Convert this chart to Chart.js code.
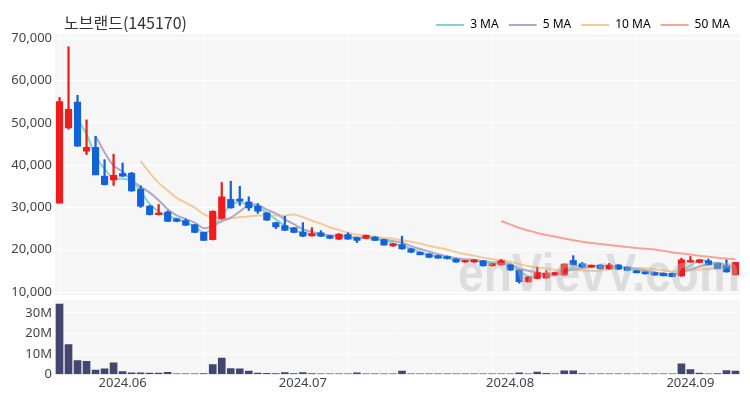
<!DOCTYPE html>
<html>
<head>
<meta charset="utf-8">
<script src="https://cdn.jsdelivr.net/npm/chart.js@4.4.1/dist/chart.umd.min.js"></script>
<style>
  html, body { margin: 0; padding: 0; background: #fff; }
  #wrap { position: relative; width: 750px; height: 400px; }
  #title { position: absolute; left: 64px; top: 12px; line-height: 20px; font-size: 16px;
           font-family: 'Noto Sans CJK KR', sans-serif; color: #333; }
  canvas { position: absolute; left: 0; }
  #price { top: 0; }
  #volume { top: 300px; }
</style>
</head>
<body>
<div id="wrap">
  <canvas id="price" width="750" height="300"></canvas>
  <canvas id="volume" width="750" height="100"></canvas>
  <div id="title">노브랜드(145170)</div>
</div>
<script>
const dates = [
  '2024.05.23','2024.05.24','2024.05.27','2024.05.28','2024.05.29','2024.05.30','2024.05.31',
  '2024.06.03','2024.06.04','2024.06.05','2024.06.06','2024.06.07','2024.06.10','2024.06.11','2024.06.12','2024.06.13','2024.06.14',
  '2024.06.17','2024.06.18','2024.06.19','2024.06.20','2024.06.21','2024.06.24','2024.06.25','2024.06.26','2024.06.27','2024.06.28',
  '2024.07.01','2024.07.02','2024.07.03','2024.07.04','2024.07.05','2024.07.08','2024.07.09','2024.07.10','2024.07.11','2024.07.12',
  '2024.07.15','2024.07.16','2024.07.17','2024.07.18','2024.07.19','2024.07.22','2024.07.23','2024.07.24','2024.07.25','2024.07.26',
  '2024.07.29','2024.07.30','2024.07.31',
  '2024.08.01','2024.08.02','2024.08.05','2024.08.06','2024.08.07','2024.08.08','2024.08.09','2024.08.12','2024.08.13','2024.08.14',
  '2024.08.16','2024.08.19','2024.08.20','2024.08.21','2024.08.22','2024.08.23','2024.08.26','2024.08.27','2024.08.28','2024.08.29',
  '2024.09.02','2024.09.03','2024.09.04','2024.09.05','2024.09.06','2024.09.09'
];

const opens = [31000,48800,54900,43300,44200,37400,36500,38000,38100,34300,
  30300,28300,28900,27300,26900,25900,24100,22400,27400,31900,
  32000,31300,30300,28700,26400,25700,25200,24200,23300,24000,
  23300,22500,23600,22900,22700,23000,22400,20900,21200,20200,
  19400,19000,18600,18400,17800,17100,17100,17400,16200,16400,
  16400,15200,12400,13200,13300,14100,14000,17450,16700,15900,
  16400,15500,16400,15900,15000,14750,14600,14450,14450,13800,
  17100,17000,17400,16700,16200,14050];
const highs = [56000,68000,56500,50700,46800,41300,42600,40500,38300,35100,
  30500,30700,29200,27400,27300,26000,24200,29200,35900,36200,
  35000,32500,30900,28800,26500,27900,25300,26400,25200,24500,
  23400,23800,24000,23000,23500,23100,22500,21500,23200,20300,
  19500,19100,18700,18500,17900,17500,17700,17500,16800,17700,
  16500,15300,13600,15900,15100,14700,16700,18600,17000,16400,
  16500,16800,16500,16000,15100,14800,14700,14500,14500,18000,
  18400,17700,17800,16800,17600,17000];
const lows = [31000,48500,44400,42500,37700,35300,35200,37300,33800,30000,
  28200,28200,26700,26600,25700,24000,22200,22300,27200,29800,
  30500,29300,28600,26900,25000,24500,24000,23100,23200,23100,
  22600,22400,22500,21700,22600,22200,21100,20800,20100,19300,
  18800,18100,18000,17800,17000,17000,17000,16100,16100,16300,
  15100,12100,12300,13100,13200,14000,13900,16300,15800,15800,
  15400,15400,15300,15000,14500,14250,13950,13800,13600,13700,
  17000,16900,16400,15500,14700,14000];
const closes = [55000,53200,44500,44200,37700,35400,37600,37400,33900,30300,
  28300,28700,26700,26700,25800,24100,22200,29100,32500,29900,
  31500,29900,29100,27000,25400,24600,24100,23200,23800,23200,
  22700,23700,22500,22200,23400,22200,21100,21400,20200,19400,
  18800,18200,18000,17900,17100,17450,17600,16200,16700,17400,
  15200,12450,13500,14600,14500,14600,16600,16400,15900,16350,
  15500,16400,15400,15100,14550,14300,14000,13850,13650,17600,
  17450,17600,16450,15550,14750,17000];
// volume in millions of shares
const volumes = [34.3,14.5,6.8,6.4,2.1,2.7,5.6,1.4,0.8,0.8,
  0.6,0.7,1.0,0.3,0.3,0.3,0.4,4.8,8.0,2.9,
  2.7,1.6,0.6,0.5,0.4,0.9,0.4,0.9,0.4,0.3,
  0.3,0.3,0.3,0.8,0.3,0.2,0.3,0.3,1.6,0.3,
  0.2,0.2,0.2,0.2,0.2,0.2,0.2,0.2,0.2,0.2,
  0.3,0.8,0.3,1.1,0.5,0.2,1.7,1.7,0.4,0.3,
  0.3,0.3,0.2,0.2,0.2,0.2,0.2,0.2,0.2,5.2,
  2.4,0.6,0.3,0.4,1.9,1.6];

const priceTicks = [10000, 20000, 30000, 40000, 50000, 60000, 70000];
const volumeTicks = [0, 10, 20, 30];
const maPeriods = [3, 5, 10, 50];
const maColors = ['#80d4d0', '#b3a6c6', '#f3ca98', '#f7a398'];

const UP = '#f01c1c', DOWN = '#1462d8';
const candleColors = closes.map((c, i) => c >= opens[i] ? UP : DOWN);

function movingAverage(values, n) {
  return values.map((_, i) => i < n - 1 ? null :
    values.slice(i - n + 1, i + 1).reduce((a, b) => a + b, 0) / n);
}

Chart.defaults.font.family = "'Noto Sans', 'Noto Sans CJK KR', sans-serif";
Chart.defaults.animation = false;

const plotBg = {
  id: 'plotBg',
  beforeDraw(chart) {
    const { ctx, chartArea: a } = chart;
    ctx.save();
    ctx.fillStyle = '#f6f6f6';
    ctx.fillRect(a.left, a.top, a.right - a.left, a.bottom - a.top);
    ctx.restore();
  }
};

const watermark = {
  id: 'watermark',
  afterDatasetsDraw(chart) {
    const { ctx } = chart;
    ctx.save();
    ctx.font = "bold 54px 'Liberation Sans', sans-serif";
    ctx.fillStyle = 'rgba(185,185,185,0.4)';
    ctx.textBaseline = 'alphabetic';
    ctx.fillText('enVievV.com', 458, 291, 282);
    ctx.restore();
  }
};

const gridColor = c => c.index % 16 === 0 ? '#ffffff' : 'rgba(0,0,0,0)';
const noPad = s => { s.paddingTop = 0; s.paddingBottom = 0; s.paddingLeft = 0; s.paddingRight = 0; };

const maDatasets = maPeriods.map((n, k) => ({
  type: 'line',
  label: n + ' MA',
  data: movingAverage(closes, n),
  borderColor: maColors[k],
  backgroundColor: maColors[k],
  borderWidth: 2,
  pointRadius: 0,
  tension: 0.35,
  order: 3
}));

new Chart(document.getElementById('price'), {
  type: 'bar',
  data: {
    labels: dates,
    datasets: [
      ...maDatasets,
      {
        label: 'wick',
        data: lows.map((l, i) => [l, highs[i]]),
        backgroundColor: candleColors,
        barThickness: 1.6,
        grouped: false,
        order: 2
      },
      {
        label: 'body',
        data: opens.map((o, i) => [o, closes[i]]),
        backgroundColor: candleColors,
        barThickness: 6.5,
        minBarLength: 1.5,
        grouped: false,
        order: 1
      }
    ]
  },
  options: {
    responsive: false,
    layout: { padding: { top: 9, right: 10, bottom: 5, left: 0 } },
    plugins: {
      tooltip: { enabled: false },
      legend: {
        position: 'top',
        align: 'end',
        maxHeight: 25,
        labels: {
          boxWidth: 28,
          boxHeight: 2,
          padding: 10,
          color: '#555',
          font: { size: 12 },
          generateLabels: chart => chart.data.datasets
            .map((d, i) => ({ text: d.label, fillStyle: d.borderColor, strokeStyle: d.borderColor,
                              lineWidth: 0, datasetIndex: i, hidden: false }))
            .filter(it => it.text.endsWith('MA'))
        }
      }
    },
    scales: {
      x: {
        offset: true,
        ticks: { display: false },
        grid: { offset: false, drawTicks: false, color: gridColor },
        border: { display: false },
        afterFit: noPad
      },
      y: {
        min: 9300,
        max: 71000,
        afterBuildTicks: s => { s.ticks = priceTicks.map(v => ({ value: v })); },
        afterFit: s => { s.width = 55; noPad(s); },
        grid: { color: '#ffffff', drawTicks: false },
        border: { display: false },
        ticks: { padding: 3, color: '#444', font: { size: 13 },
                 callback: v => v.toLocaleString('en-US') }
      }
    }
  },
  plugins: [plotBg, watermark]
});

new Chart(document.getElementById('volume'), {
  type: 'bar',
  data: {
    labels: dates,
    datasets: [{
      label: 'Volume',
      data: volumes,
      backgroundColor: '#43466e',
      barThickness: 7
    }]
  },
  options: {
    responsive: false,
    layout: { padding: { top: 0, right: 10, bottom: 8, left: 0 } },
    plugins: { legend: { display: false }, tooltip: { enabled: false } },
    scales: {
      x: {
        offset: true,
        grid: { offset: false, drawTicks: false, color: gridColor },
        border: { display: false },
        afterFit: noPad,
        ticks: {
          autoSkip: false,
          maxRotation: 0,
          padding: 1,
          color: '#444',
          font: { size: 13 },
          callback: (v, i) => (i > 0 && dates[i].slice(0, 7) !== dates[i - 1].slice(0, 7)) ? dates[i].slice(0, 7) : ''
        }
      },
      y: {
        min: 0,
        max: 36.3,
        afterBuildTicks: s => { s.ticks = volumeTicks.map(v => ({ value: v })); },
        afterFit: s => { s.width = 55; noPad(s); },
        grid: { color: '#ffffff', drawTicks: false },
        border: { display: false },
        ticks: { padding: 3, color: '#444', font: { size: 13 },
                 callback: v => v === 0 ? '0' : v + 'M' }
      }
    }
  },
  plugins: [plotBg]
});
</script>
</body>
</html>
